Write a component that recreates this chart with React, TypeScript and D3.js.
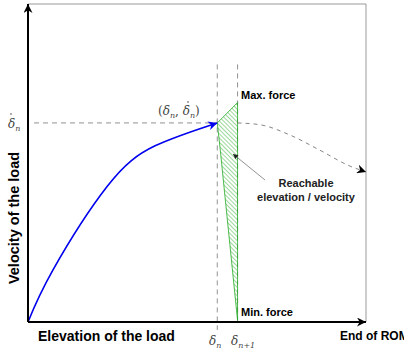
import React from 'react';
import * as d3 from 'd3';

// phase plane data (domain units 0..100 on both axes)
const blueCurve: [number, number][] = [[0, 0], [7.4, 16.4], [23.4, 42.6], [37.6, 55.4], [56, 62.6]];
const dashedCurve: [number, number][] = [[62, 62.6], [68.8, 62], [77.5, 58.8], [86.4, 54], [95.3, 49], [100, 47.2]];
const reachable: [number, number][] = [[56, 62.6], [62, 69], [62, 0.5], [56.8, 55]];
const deltaN = 56;
const deltaN1 = 62;
const velN = 62.6;

const W = 404;
const H = 354;
const margin = { left: 28, top: 4, right: 38, bottom: 32 };

const App = () => {
  const x = d3.scaleLinear().domain([0, 100]).range([margin.left, W - margin.right]);
  const y = d3.scaleLinear().domain([0, 100]).range([H - margin.bottom, margin.top]);
  const smooth = d3.line<[number, number]>().x(d => x(d[0])).y(d => y(d[1])).curve(d3.curveMonotoneX);
  const natural = d3.line<[number, number]>().x(d => x(d[0])).y(d => y(d[1])).curve(d3.curveNatural);
  const poly = d3.line<[number, number]>().x(d => x(d[0])).y(d => y(d[1]));

  const sans = 'Liberation Sans, Arial, sans-serif';
  const serif = 'DejaVu Serif, Liberation Serif, serif';
  const x0 = x(0), x1 = x(100), y0 = y(0), y1 = y(100);

  return (
    <svg width={W} height={H} style={{ position: 'absolute', left: 0, top: 0, background: '#fff' }}>
      <defs>
        <pattern id="hatch" width="3" height="3" patternUnits="userSpaceOnUse" patternTransform="rotate(-45)">
          <line x1="0" y1="0" x2="0" y2="3" stroke="#22aa22" strokeWidth="0.9" />
        </pattern>
        <marker id="arrBlackBig" viewBox="0 0 10 10" refX="10" refY="5" markerWidth="14" markerHeight="9" orient="auto" markerUnits="userSpaceOnUse">
          <path d="M0,0 L10,5 L0,10 L3,5 Z" fill="#000" />
        </marker>
        <marker id="arrBlue" viewBox="0 0 10 10" refX="10" refY="5" markerWidth="14" markerHeight="9" orient="auto" markerUnits="userSpaceOnUse">
          <path d="M0,0 L10,5 L0,10 L3,5 Z" fill="#0000ee" />
        </marker>
        <marker id="arrSmall" viewBox="0 0 10 10" refX="10" refY="5" markerWidth="6" markerHeight="5" orient="auto" markerUnits="userSpaceOnUse">
          <path d="M0,0 L10,5 L0,10 Z" fill="#222" />
        </marker>
      </defs>

      {/* frame */}
      <path d={`M${x0},${y1} H${x1} V${y0}`} fill="none" stroke="#999" strokeWidth={1} />

      {/* dashed guides */}
      <line x1={x0 + 6} x2={x(deltaN)} y1={y(velN)} y2={y(velN)} stroke="#777" strokeDasharray="5,4" strokeWidth={0.8} />
      <line x1={x(deltaN)} x2={x(deltaN)} y1={y(81)} y2={y(-2.5)} stroke="#777" strokeDasharray="5,4" strokeWidth={0.8} />
      <line x1={x(deltaN1)} x2={x(deltaN1)} y1={y(81)} y2={y(0)} stroke="#777" strokeDasharray="5,4" strokeWidth={0.8} />

      {/* reachable region */}
      <path d={poly(reachable) + 'Z'} fill="url(#hatch)" stroke="#22aa22" strokeWidth={0.8} />

      {/* continuation */}
      <path d={smooth(dashedCurve) ?? ''} fill="none" stroke="#666" strokeDasharray="4,4" strokeWidth={0.8} markerEnd="url(#arrBlackBig)" />

      {/* trajectory */}
      <path d={natural(blueCurve) ?? ''} fill="none" stroke="#0000ee" strokeWidth={1.6} markerEnd="url(#arrBlue)" />

      {/* axes */}
      <line x1={x0} x2={x1} y1={y0} y2={y0} stroke="#000" strokeWidth={2} markerEnd="url(#arrBlackBig)" />
      <line x1={x0} x2={x0} y1={y0} y2={y1} stroke="#000" strokeWidth={2} markerEnd="url(#arrBlackBig)" />

      {/* pointer */}
      <line x1={265} y1={180} x2={233} y2={154} stroke="#777" strokeWidth={0.8} markerEnd="url(#arrSmall)" />

      {/* labels */}
      <text x={241} y={99} fontFamily={sans} fontWeight="bold" fontSize={11}>Max. force</text>
      <text x={241} y={316} fontFamily={sans} fontWeight="bold" fontSize={11}>Min. force</text>
      <text x={306} y={187} textAnchor="middle" fontFamily={sans} fontWeight="bold" fontSize={11} fill="#222">Reachable</text>
      <text x={306} y={201} textAnchor="middle" fontFamily={sans} fontWeight="bold" fontSize={11} fill="#222">elevation / velocity</text>
      <text x={38} y={341} fontFamily={sans} fontWeight="bold" fontSize={14}>Elevation of the load</text>
      <text x={340} y={340} fontFamily={sans} fontWeight="bold" fontSize={12}>End of ROM</text>
      <text transform={`translate(19,218) rotate(-90)`} textAnchor="middle" fontFamily={sans} fontWeight="bold" fontSize={14.5}>Velocity of the load</text>

      {/* math labels */}
      <g fontFamily={serif} fill="#444">
        <text x={209} y={345} fontSize={12} fontStyle="italic">δ<tspan fontSize={8} dy={3}>n</tspan></text>
        <text x={231} y={345} fontSize={12} fontStyle="italic">δ<tspan fontSize={8} dy={3}>n+1</tspan></text>
        <text x={8} y={128} fontSize={12} fontStyle="italic">δ<tspan fontSize={8} dy={3}>n</tspan></text>
        <circle cx={11} cy={114} r={0.8} />
        <text x={158} y={115} fontSize={12}>(<tspan fontStyle="italic">δ</tspan><tspan fontSize={8} dy={3} fontStyle="italic">n</tspan><tspan dy={-3}>, </tspan><tspan fontStyle="italic">δ</tspan><tspan fontSize={8} dy={3} fontStyle="italic">n</tspan><tspan dy={-3}>)</tspan></text>
        <circle cx={188} cy={102} r={0.8} />
      </g>
    </svg>
  );
};

export default App;
